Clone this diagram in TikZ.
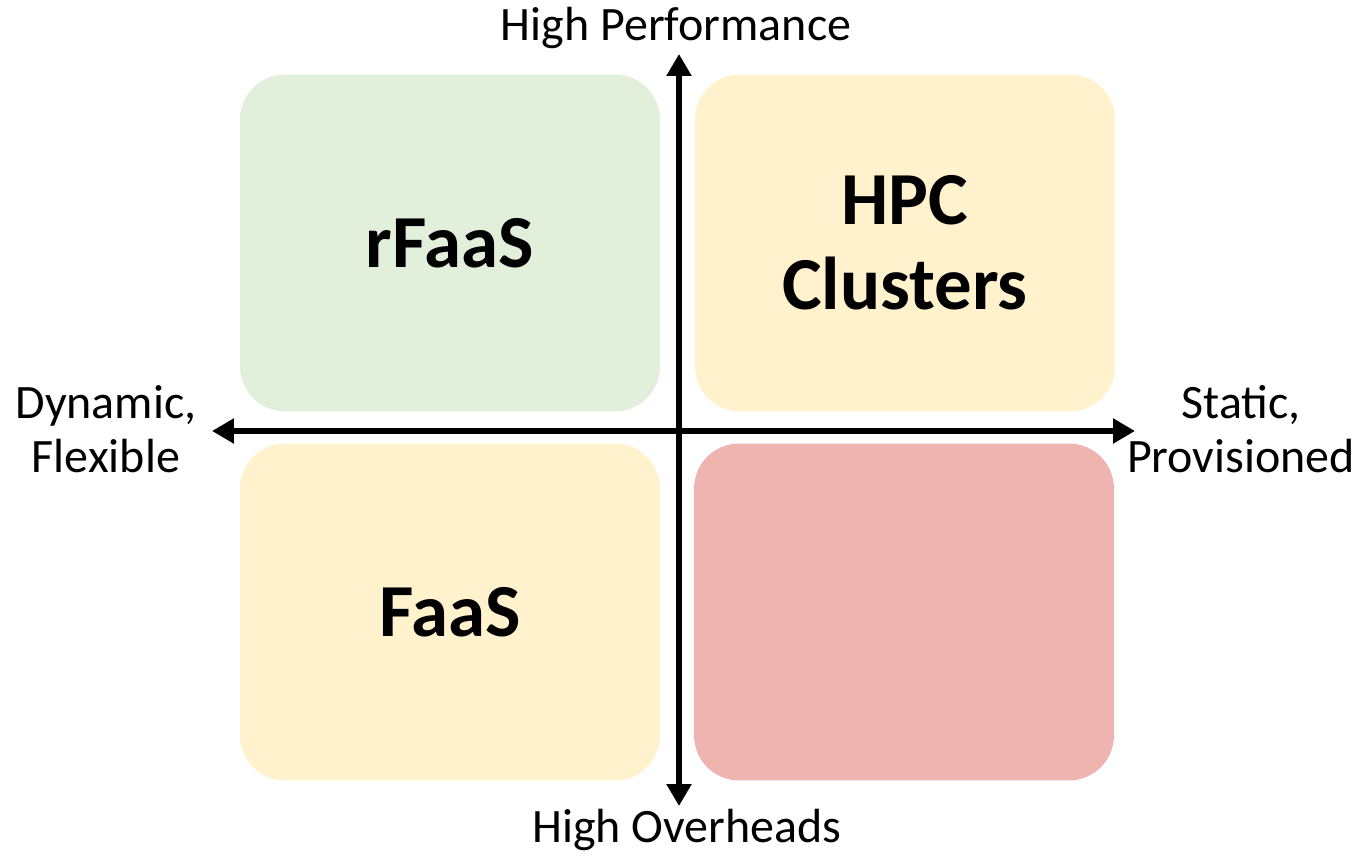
\documentclass[tikz,border=0pt]{standalone}
\usepackage{fontspec}
\setmainfont{Carlito}
\usetikzlibrary{arrows.meta}

\definecolor{quadgreen}{HTML}{E2EFDA}
\definecolor{quadyellow}{HTML}{FFF2CC}
\definecolor{quadred}{HTML}{F0B4B0}

\begin{document}
\begin{tikzpicture}[x=0.02cm, y=-0.02cm,
    quad/.style={rectangle, rounded corners=0.9cm,
                 minimum width=8.4cm, minimum height=6.74cm,
                 inner sep=0pt, outer sep=0pt, anchor=center,
                 font=\fontsize{42.6}{48.5}\selectfont\bfseries, align=center},
    axis/.style={line width=3.3pt, {Triangle[length=12.5pt,width=13.6pt]}-{Triangle[length=12.5pt,width=13.6pt]}},
    axlabel/.style={font=\fontsize{27.3}{30.6}\selectfont, align=center, inner sep=0pt},
    ]
\useasboundingbox (0,0) rectangle (1360,856);

% quadrants
\node[quad, fill=quadgreen]  (rfaas) at (450,243) {rFaaS};
\node[quad, fill=quadyellow] (hpc)   at (905,243) {HPC\\Clusters};
\node[quad, fill=quadyellow] (faas)  at (450,612) {FaaS};
\node[quad, fill=quadred]    (empty) at (904,612) {};

% axes
\coordinate (top)    at (679,54);
\coordinate (bottom) at (679,806);
\coordinate (left)   at (212,431);
\coordinate (right)  at (1135,431);
\draw[axis] (bottom) -- (top);
\draw[axis] (left) -- (right);

% axis labels
\node[axlabel] (perf)   at (676,28)  {High Performance};
\node[axlabel] (over)   at (687,830) {High Overheads};
\node[axlabel] (dyn)    at (106,429) {Dynamic,\\Flexible};
\node[axlabel] (static) at (1241,429) {Static,\\Provisioned};
\end{tikzpicture}
\end{document}
